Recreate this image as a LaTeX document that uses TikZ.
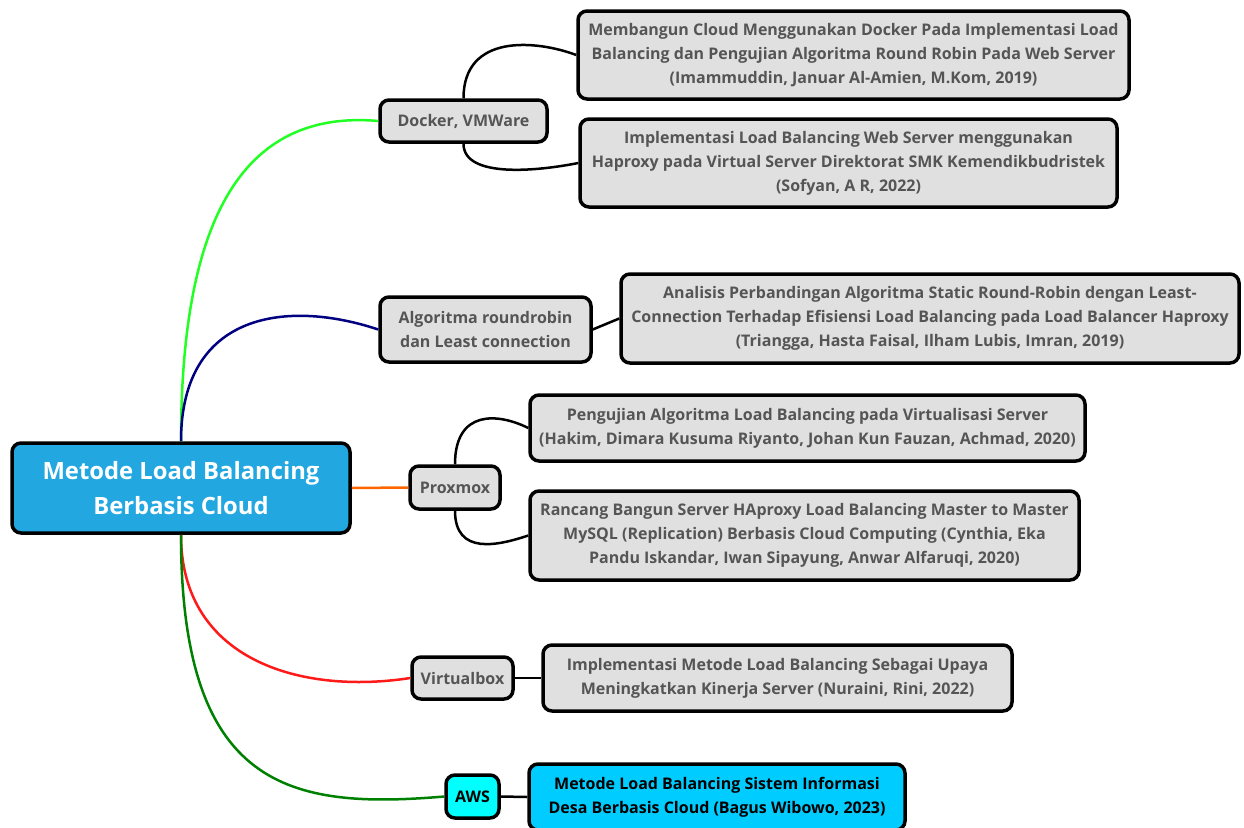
\documentclass[tikz,border=0pt]{standalone}
\usepackage{fontspec}
\setmainfont{Open Sans}
\definecolor{boxgray}{HTML}{E0E0E0}
\definecolor{txtgray}{HTML}{555555}
\definecolor{rootblue}{HTML}{22A7E0}
\definecolor{awscyan}{HTML}{00FFFF}
\definecolor{leafcyan}{HTML}{00CCFF}
\definecolor{lgreen}{HTML}{22FF22}
\definecolor{lnavy}{HTML}{000080}
\definecolor{lorange}{HTML}{FF6600}
\definecolor{lred}{HTML}{FF1A1A}
\definecolor{dgreen}{HTML}{008000}
\begin{document}
\begin{tikzpicture}[x=1pt,y=-1pt,
  box/.style={draw=black, line width=3.5pt, rounded corners=9pt, fill=boxgray, text=txtgray,
    font=\bfseries\fontsize{16}{24}\selectfont, align=center, inner sep=0pt},
  rootbox/.style={box, fill=rootblue, text=white, font=\bfseries\fontsize{23.8}{35}\selectfont},
  conn/.style={line width=2.5pt},
  link/.style={line width=2.5pt, black}]
\useasboundingbox (0,0) rectangle (1244,827);

% nodes
\node[rootbox, minimum width=338pt, minimum height=90pt] (root) at (181,488) {Metode Load Balancing\\Berbasis Cloud};

\node[box, minimum width=167pt, minimum height=42pt] (docker) at (463.5,121) {Docker, VMWare};
\node[box, minimum width=551pt, minimum height=88pt] (l1) at (853.5,55) {Membangun Cloud Menggunakan Docker Pada Implementasi Load\\Balancing dan Pengujian Algoritma Round Robin Pada Web Server\\(Imammuddin, Januar Al-Amien, M.Kom, 2019)};
\node[box, minimum width=537pt, minimum height=88pt] (l2) at (848.5,163) {Implementasi Load Balancing Web Server menggunakan\\Haproxy pada Virtual Server Direktorat SMK Kemendikbudristek\\(Sofyan, A R, 2022)};

\node[box, minimum width=211pt, minimum height=65pt] (algo) at (485.5,329.5) {Algoritma roundrobin\\dan Least connection};
\node[box, minimum width=618pt, minimum height=89pt] (l3) at (930,318.5) {Analisis Perbandingan Algoritma Static Round-Robin dengan Least-\\Connection Terhadap Efisiensi Load Balancing pada Load Balancer Haproxy\\(Triangga, Hasta Faisal, Ilham Lubis, Imran, 2019)};

\node[box, minimum width=90pt, minimum height=43pt] (prox) at (455,487.5) {Proxmox};
\node[box, minimum width=555pt, minimum height=66pt] (l4) at (807.5,428) {Pengujian Algoritma Load Balancing pada Virtualisasi Server\\(Hakim, Dimara Kusuma Riyanto, Johan Kun Fauzan, Achmad, 2020)};
\node[box, minimum width=549pt, minimum height=89pt] (l5) at (804.5,535.5) {Rancang Bangun Server HAproxy Load Balancing Master to Master\\MySQL (Replication) Berbasis Cloud Computing (Cynthia, Eka\\Pandu Iskandar, Iwan Sipayung, Anwar Alfaruqi, 2020)};

\node[box, minimum width=101pt, minimum height=42pt] (vbox) at (462.5,678) {Virtualbox};
\node[box, minimum width=469pt, minimum height=66pt] (l6) at (777.5,678) {Implementasi Metode Load Balancing Sebagai Upaya\\Meningkatkan Kinerja Server (Nuraini, Rini, 2022)};

\node[box, fill=awscyan, text=black, minimum width=53pt, minimum height=43pt] (aws) at (472.5,796.5) {AWS};
\node[box, fill=leafcyan, text=black, minimum width=376pt, minimum height=66pt] (l7) at (717,797) {Metode Load Balancing Sistem Informasi\\Desa Berbasis Cloud (Bagus Wibowo, 2023)};

% main branches
\draw[conn, lgreen] (root.north) .. controls +(0,-200) and +(-148,-13) .. (docker.west);
\draw[conn, lnavy] (root.north) .. controls +(0,-130) and +(-90,-30) .. (algo.west);
\draw[conn, lorange] (root.east) -- (prox.west);
\draw[conn, lred] (root.south) .. controls +(0,125) and +(-110,17) .. (vbox.west);
\draw[conn, dgreen] (root.south) .. controls +(0,255) and +(-154,13) .. (aws.west);

% leaf links
\draw[link] (docker.north) .. controls +(0,-65) and +(-40,-15) .. (l1.west);
\draw[link] (docker.south) .. controls +(0,35) and +(-40,8) .. (l2.west);
\draw[link] (algo.east) -- (l3.west);
\draw[link] (prox.north) .. controls +(0,-55) and +(-30,-15) .. (l4.west);
\draw[link] (prox.south) .. controls +(0,45) and +(-30,10) .. (l5.west);
\draw[link] (vbox.east) -- (l6.west);
\draw[link] (aws.east) -- (l7.west);
\end{tikzpicture}
\end{document}
